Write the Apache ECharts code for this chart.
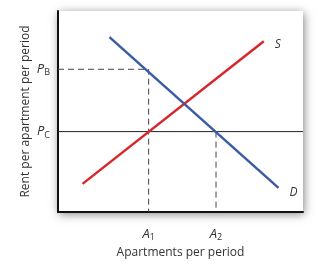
<!DOCTYPE html>
<html>
<head>
<meta charset="utf-8">
<script src="https://cdn.jsdelivr.net/npm/echarts@6/dist/echarts.min.js"></script>
<style>
  html, body { margin: 0; padding: 0; background: #fff; }
  #chart { width: 318px; height: 264px; }
</style>
</head>
<body>
<div id="chart"></div>
<script>
// curves (0..100 on both axes)
var demand = [[21, 87], [90, 12]];
var supply = [[10, 14], [84, 85]];
// price ceiling and quantities
var PB = 71, PC = 40;
var A1 = 37, A2 = 64.5;
var yTicks = [PB, PC];
var xTicks = [A1, A2];

var font = '"Open Sans", "Noto Sans", sans-serif';
var rich = {
  p: { fontStyle: 'italic', fontSize: 13, color: '#333', fontFamily: font },
  s: { fontSize: 9, color: '#333', fontFamily: font, verticalAlign: 'bottom', padding: [7, 0, 0, 0] }
};

var chart = echarts.init(document.getElementById('chart'));
chart.setOption({
  animation: false,
  grid: {
    left: 58, top: 11, right: 15, bottom: 43,
    show: true, backgroundColor: '#fff', borderWidth: 0,
    shadowBlur: 9, shadowColor: 'rgba(0,0,0,0.5)', shadowOffsetX: 1, shadowOffsetY: 2
  },
  xAxis: {
    type: 'value', min: 0, max: 100,
    name: 'Apartments per period', nameLocation: 'middle', nameGap: 35, nameMoveOverlap: false,
    nameTextStyle: { fontSize: 12, color: '#333', fontFamily: font },
    axisLine: { lineStyle: { color: '#111', width: 2 } },
    axisTick: { show: false },
    splitLine: { show: false },
    axisLabel: {
      customValues: xTicks, margin: 14,
      formatter: function (v) { return '{p|A}{s|' + (v === A1 ? '1' : '2') + '}'; },
      rich: rich
    }
  },
  yAxis: {
    type: 'value', min: 0, max: 100,
    name: 'Rent per apartment per period', nameLocation: 'middle', nameGap: 26, nameMoveOverlap: false,
    nameTextStyle: { fontSize: 12, color: '#333', fontFamily: font },
    axisLine: { lineStyle: { color: '#111', width: 2 } },
    axisTick: { show: false },
    splitLine: { show: false },
    axisLabel: {
      customValues: yTicks, margin: 8,
      formatter: function (v) { return '{p|P}{s|' + (v === PB ? 'B' : 'C') + '}'; },
      rich: rich
    }
  },
  series: [
    {
      type: 'line', data: [[0, PC], [100, PC]], symbol: 'none', silent: true,
      lineStyle: { color: '#222', width: 1 }
    },
    {
      type: 'line', data: [[0, PB], [A1, PB], [A1, 0]], symbol: 'none', silent: true,
      lineStyle: { color: '#444', width: 1, type: [6, 4] }
    },
    {
      type: 'line', data: [[A2, PC], [A2, 0]], symbol: 'none', silent: true,
      lineStyle: { color: '#444', width: 1, type: [6, 4] }
    },
    {
      type: 'line', data: supply, symbol: 'none',
      lineStyle: { color: '#d7262b', width: 2.5 },
      endLabel: { show: true, formatter: 'S', fontStyle: 'italic', fontSize: 12, color: '#333', fontFamily: font, offset: [3, 3] }
    },
    {
      type: 'line', data: demand, symbol: 'none',
      lineStyle: { color: '#3b5ba5', width: 2.5 },
      endLabel: { show: true, formatter: 'D', fontStyle: 'italic', fontSize: 12, color: '#333', fontFamily: font, offset: [3, 5] }
    }
  ]
});
</script>
</body>
</html>
